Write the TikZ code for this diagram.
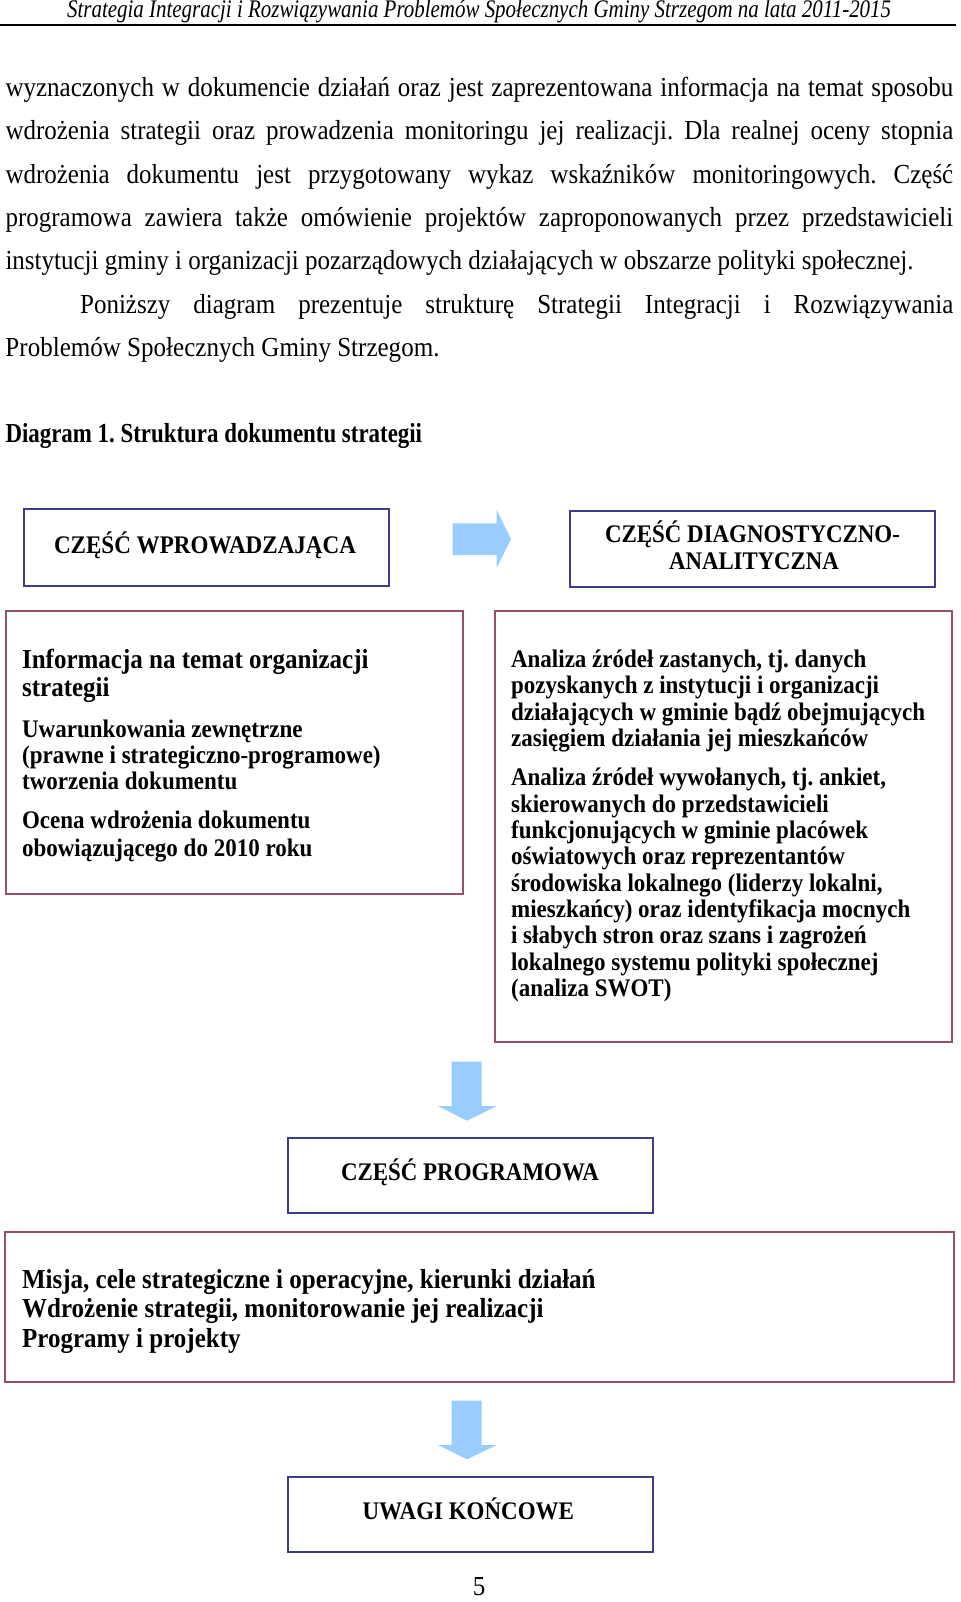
\documentclass[tikz,border=0pt]{standalone}
\usepackage{fontspec}
\setmainfont{Liberation Serif}
\usepackage{graphicx}
\definecolor{navy}{RGB}{60,60,140}
\definecolor{mauve}{RGB}{150,80,110}
\definecolor{arrowblue}{RGB}{153,204,255}
\newcommand\vsf{1.1}
\newbox\fitbox
\newcommand\Jl[2]{\scalebox{1}[\vsf]{\makebox[#1][s]{#2}}}
\newcommand\Fl[2]{\setbox\fitbox\hbox{#2}\pgfmathsetmacro\fitsx{#1/(\the\wd\fitbox)}\scalebox{\fitsx}[\vsf]{\box\fitbox}}
\newcommand\Nl[1]{\scalebox{1}[\vsf]{#1}}
\newcommand\bodyf{\fontsize{12.5}{14}\selectfont}
\newcommand\boxf{\fontsize{11.5}{13}\selectfont\bfseries}
\newcommand\bigf{\fontsize{12.5}{14}\selectfont\bfseries}
\frenchspacing
\begin{document}
\begin{tikzpicture}[x=0.5pt,y=-0.5pt,
  t/.style={inner sep=0pt, anchor=base west},
  tc/.style={inner sep=0pt, anchor=base},
  navybox/.style={draw=navy, line width=1pt, inner sep=0pt, anchor=north west},
  mauvebox/.style={draw=mauve, line width=1pt, inner sep=0pt, anchor=north west},
  barrow/.style={fill=arrowblue, draw=none}]
\useasboundingbox (0,0) rectangle (960,1602);
\fill[white] (0,0) rectangle (960,1602);

% header
\node[t] (hdr) at (66.7,17) {\Fl{412pt}{\fontsize{11.5}{13}\selectfont\itshape Strategia Integracji i Rozwiązywania Problemów Społecznych Gminy Strzegom na lata 2011-2015}};
\coordinate (hl) at (0,25);
\coordinate (hr) at (956,25);
\draw[line width=0.8pt] (hl) -- (hr);

% body text
\node[t] (l1) at (5.1,96) {\bodyf\Jl{473.9pt}{wyznaczonych w dokumencie działań oraz jest zaprezentowana informacja na temat sposobu}};
\node[t] (l2) at (5.1,139.5) {\bodyf\Jl{473.9pt}{wdrożenia strategii oraz prowadzenia monitoringu jej realizacji. Dla realnej oceny stopnia}};
\node[t] (l3) at (5.1,183) {\bodyf\Jl{473.9pt}{wdrożenia dokumentu jest przygotowany wykaz wskaźników monitoringowych. Część}};
\node[t] (l4) at (5.1,226) {\bodyf\Jl{473.9pt}{programowa zawiera także omówienie projektów zaproponowanych przez przedstawicieli}};
\node[t] (l5) at (5.1,269.5) {\bodyf\Fl{454pt}{instytucji gminy i organizacji pozarządowych działających w obszarze polityki społecznej.}};
\node[t] (l6) at (79.7,313) {\bodyf\Jl{436.6pt}{Poniższy diagram prezentuje strukturę Strategii Integracji i Rozwiązywania}};
\node[t] (l7) at (5.1,356) {\bodyf\Fl{217pt}{Problemów Społecznych Gminy Strzegom.}};
\node[t] (title) at (5.1,442) {\bodyf\Fl{208.3pt}{\bfseries Diagram 1. Struktura dokumentu strategii}};

% boxes
\node[navybox, minimum width=182.2pt, minimum height=38.65pt] (boxA) at (23.3,507.7) {};
\node[navybox, minimum width=182.5pt, minimum height=37.85pt] (boxB) at (569.3,510) {};
\node[mauvebox, minimum width=228.5pt, minimum height=141.35pt] (boxC) at (4.7,610) {};
\node[mauvebox, minimum width=228.5pt, minimum height=215.35pt] (boxD) at (494,610) {};
\node[navybox, minimum width=182.2pt, minimum height=37.5pt] (boxE) at (287.3,1137.3) {};
\node[mauvebox, minimum width=474.5pt, minimum height=75pt] (boxF) at (4,1231) {};
\node[navybox, minimum width=182.2pt, minimum height=37.65pt] (boxG) at (287.3,1476) {};

% block arrows
\fill[barrow] (452.7,523.3) -- (496.7,523.3) -- (496.7,510) -- (511,539) -- (496.7,567.7) -- (496.7,555) -- (452.7,555) -- cycle;
\fill[barrow] (451.7,1061.7) -- (481.7,1061.7) -- (481.7,1106) -- (496.7,1106) -- (467,1120.7) -- (438,1106) -- (451.7,1106) -- cycle;
\fill[barrow] (451.7,1400.7) -- (481.7,1400.7) -- (481.7,1445) -- (496.7,1445) -- (467,1459.3) -- (438,1445) -- (451.7,1445) -- cycle;

% box texts
\node[tc] (tA) at (205,553.5) {\Fl{151pt}{\boxf CZĘŚĆ WPROWADZAJĄCA}};
\node[tc] (tB1) at (752.5,542.5) {\Fl{147.5pt}{\boxf CZĘŚĆ DIAGNOSTYCZNO-}};
\node[tc] (tB2) at (754,569.5) {\Fl{84.8pt}{\boxf ANALITYCZNA}};
\node[tc] (tE) at (470,1180) {\Fl{129pt}{\boxf CZĘŚĆ PROGRAMOWA}};
\node[tc] (tG) at (468.3,1519) {\Fl{105.7pt}{\boxf UWAGI KOŃCOWE}};

\node[t] (c1) at (21.7,668) {\bigf\Nl{Informacja na temat organizacji}};
\node[t] (c2) at (21.7,696.5) {\bigf\Nl{strategii}};
\node[t] (c3) at (21.7,737) {\boxf\Nl{Uwarunkowania zewnętrzne}};
\node[t] (c4) at (21.7,763.7) {\boxf\Nl{(prawne i strategiczno-programowe)}};
\node[t] (c5) at (21.7,789.7) {\boxf\Nl{tworzenia dokumentu}};
\node[t] (c6) at (21.7,828.7) {\boxf\Nl{Ocena wdrożenia dokumentu}};
\node[t] (c7) at (21.7,856) {\boxf\Nl{obowiązującego do 2010 roku}};

\node[t] (d1) at (510.7,667) {\boxf\Nl{Analiza źródeł zastanych, tj. danych}};
\node[t] (d2) at (510.7,693.5) {\boxf\Nl{pozyskanych z instytucji i organizacji}};
\node[t] (d3) at (510.7,720) {\boxf\Nl{działających w gminie bądź obejmujących}};
\node[t] (d4) at (510.7,746.3) {\boxf\Nl{zasięgiem działania jej mieszkańców}};
\node[t] (d5) at (510.7,785.7) {\boxf\Nl{Analiza źródeł wywołanych, tj. ankiet,}};
\node[t] (d6) at (510.7,812) {\boxf\Nl{skierowanych do przedstawicieli}};
\node[t] (d7) at (510.7,838.3) {\boxf\Nl{funkcjonujących w gminie placówek}};
\node[t] (d8) at (510.7,864.6) {\boxf\Nl{oświatowych oraz reprezentantów}};
\node[t] (d9) at (510.7,891) {\boxf\Nl{środowiska lokalnego (liderzy lokalni,}};
\node[t] (d10) at (510.7,917.3) {\boxf\Nl{mieszkańcy) oraz identyfikacja mocnych}};
\node[t] (d11) at (510.7,943.6) {\boxf\Nl{i słabych stron oraz szans i zagrożeń}};
\node[t] (d12) at (510.7,970) {\boxf\Nl{lokalnego systemu polityki społecznej}};
\node[t] (d13) at (510.7,996.3) {\boxf\Nl{(analiza SWOT)}};

\node[t] (f1) at (21.7,1288) {\bigf\Nl{Misja, cele strategiczne i operacyjne, kierunki działań}};
\node[t] (f2) at (21.7,1317.6) {\bigf\Nl{Wdrożenie strategii, monitorowanie jej realizacji}};
\node[t] (f3) at (21.7,1347.2) {\bigf\Nl{Programy i projekty}};

\node[tc] (pg) at (479,1595) {\bodyf\Nl{5}};
\end{tikzpicture}
\end{document}
